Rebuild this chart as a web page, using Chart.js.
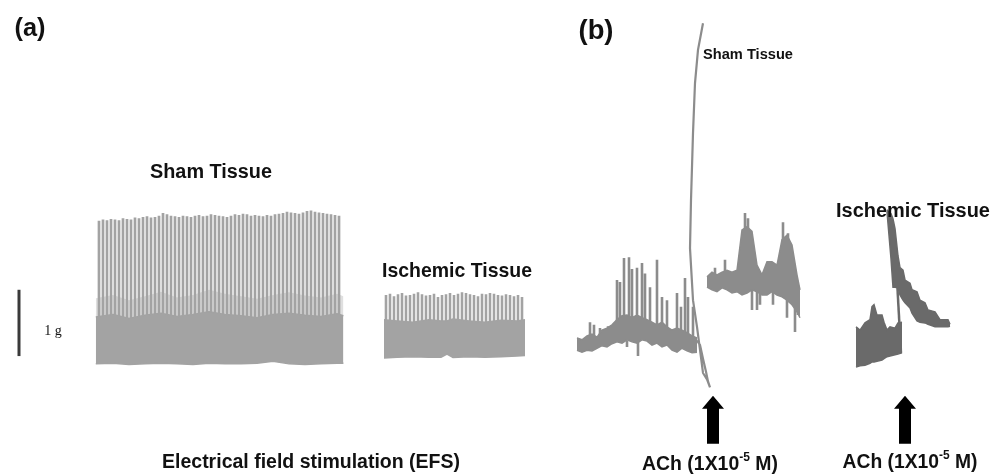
<!DOCTYPE html>
<html>
<head>
<meta charset="utf-8">
<script src="https://cdn.jsdelivr.net/npm/chart.js@4"></script>
<style>
  html, body { margin: 0; padding: 0; background: #fff; }
  canvas { display: block; }
</style>
</head>
<body>
<canvas id="chart_traces" width="1001" height="476"></canvas>
<script>
// time in s, tension in g (1 g scale bar)
const efsPeriod = 1; // EFS pulses, 1 Hz

// (a) sham tissue, EFS
const shamAStart = 0.5;
const shamAPeaks = [2.14,2.16,2.15,2.17,2.16,2.15,2.18,2.17,2.16,2.19,2.18,2.2,2.21,2.19,2.2,2.22,2.26,2.24,2.22,2.21,
    2.2,2.22,2.21,2.2,2.22,2.23,2.21,2.22,2.24,2.23,2.22,2.21,2.2,2.22,2.24,2.23,2.25,2.24,2.22,2.23,
    2.22,2.21,2.23,2.22,2.24,2.25,2.26,2.28,2.27,2.26,2.25,2.27,2.29,2.3,2.28,2.27,2.26,2.25,2.24,2.23,2.22];
const shamABandT = [-0.3,4,8,12,16,20,24,28,32,36,40,44,48,52,56,60,61.6];
const shamABandHi = [0.66,0.7,0.64,0.69,0.72,0.67,0.7,0.74,0.7,0.68,0.65,0.7,0.72,0.69,0.67,0.71,0.68];
const shamABandLo = [-0.06,-0.05,-0.07,-0.06,-0.05,-0.06,-0.07,-0.05,-0.06,-0.06,-0.05,-0.02,-0.06,-0.07,-0.06,-0.05,-0.05];
const shamADenseHi = [0.95,1.0,0.92,0.98,1.05,0.96,1.0,1.08,1.02,0.98,0.94,1.0,1.04,0.99,0.96,1.02,0.98];

// (a) ischemic tissue, EFS
const ischAStart = 72.25;
const ischAPeaks = [1.0,1.02,0.98,1.01,1.03,0.99,1.0,1.02,1.04,1.01,0.99,1.0,1.02,0.97,1.0,1.01,1.03,1.0,
    1.02,1.04,1.03,1.01,1.0,0.98,1.02,1.01,1.03,1.02,1.0,0.99,1.01,1.0,0.98,1.0,0.97];
const ischABandT = [71.75,75,79,83,86,87.5,89,93,97,101,105,107];
const ischABandHi = [0.62,0.6,0.58,0.62,0.6,0.6,0.63,0.6,0.58,0.61,0.6,0.62];
const ischABandLo = [0.03,0.04,0.05,0.04,0.04,0.09,0.04,0.05,0.04,0.05,0.06,0.07];

// scale bar
const scaleBarT = -19.5;
const scaleBarG = [0.06, 1.08];

// (b) sham tissue, before ACh
const shamBPreT = [120,121.25,122.5,123.75,125,126.25,127.5,128.75,130,131.25,132.5,133.75,135,
    136.25,137.5,138.75,140,141.25,142.5,143.75,145,146.25,147.5,148.75,150];
const shamBPreHi = [0.34,0.31,0.37,0.4,0.35,0.46,0.49,0.54,0.62,0.68,0.69,0.65,0.69,
    0.65,0.62,0.58,0.54,0.58,0.51,0.46,0.49,0.46,0.42,0.37,0.34];
const shamBPreLo = [0.15,0.12,0.15,0.14,0.18,0.22,0.2,0.25,0.28,0.26,0.31,0.28,0.26,
    0.31,0.29,0.23,0.26,0.2,0.23,0.15,0.12,0.18,0.14,0.11,0.12];
const shamBPreSpikeT = [123.25,124.25,125.75,127.75,130,130.75,131.75,133,133.75,135,136.25,137,
    138.25,140,141.25,142.5,145,146,147,147.75,149,132.5,135.25];
const shamBPreSpikeHi = [0.58,0.54,0.49,0.52,1.23,1.2,1.57,1.58,1.4,1.42,1.49,1.33,
    1.12,1.54,0.97,0.92,1.03,0.82,1.26,0.97,0.82,0.3,0.3];
const shamBPreSpikeLo = [0.3,0.3,0.3,0.3,0.4,0.4,0.4,0.4,0.4,0.4,0.4,0.4,
    0.4,0.4,0.35,0.35,0.3,0.3,0.3,0.3,0.25,0.2,0.06];

// (b) sham tissue, ACh response (pen trace)
const shamBAchT = [150,150.75,151.5,152.25,152.75,153.25,152.5,151.5,150,149,148.25,148.5,148.75,149,149.5,150.25,151.5];
const shamBAchG = [0.3,0.23,0.02,-0.18,-0.33,-0.42,-0.3,-0.2,0.51,0.92,1.72,2.46,2.97,3.49,4.26,4.77,5.18];

// (b) sham tissue, after ACh
const shamBPostT = [152.5,153.75,155,156.25,157.5,158.75,160,161.25,162.5,163.75,165,166.25,
    167.5,168.75,170,171.25,172.5,173.75,175,175.75];
const shamBPostHi = [1.28,1.35,1.31,1.35,1.38,1.35,1.38,2.0,2.05,1.98,1.46,1.31,
    1.51,1.51,1.46,1.85,1.92,1.77,1.31,1.08];
const shamBPostLo = [1.12,1.08,1.05,1.11,1.08,1.03,1.05,1.0,1.03,1.08,1.05,1.0,
    1.0,1.05,1.0,0.97,0.92,0.85,0.74,0.65];
const shamBPostSpikeT = [154.5,157,162,162.75,171.5,172.75,163.75,165,165.75,169,172.5,174.5,175.25];
const shamBPostSpikeHi = [1.42,1.54,2.26,2.18,2.12,1.95,1.2,1.2,1.2,1.2,1.0,1.0,1.0];
const shamBPostSpikeLo = [1.2,1.2,1.6,1.6,1.5,1.5,0.77,0.77,0.85,0.85,0.65,0.43,0.69];

// (b) ischemic tissue
const ischBPreT = [189.75,190.75,192,193.25,193.75,194.25,195,196.25,196.75,197.5,198.25,199.5,200.25,201.25];
const ischBPreHi = [0.51,0.46,0.57,0.62,0.82,0.85,0.69,0.69,0.58,0.46,0.51,0.49,0.57,0.58];
const ischBPreLo = [-0.11,-0.09,-0.08,-0.05,-0.03,-0.03,-0.02,0,0.02,0.05,0.06,0.08,0.09,0.11];
const ischBRiseT = [201, 200.1];
const ischBRiseG = [0.11, 1.12];
const ischBAchT = [197.5,197.75,198.5,199,199.5,200.25,200.75,201.5,202,203.25,203.75,205,205.75,207,207.75,209.5,210.75,212.75,213.25];
const ischBAchHi = [2.31,2.29,2.25,2.17,2.02,1.6,1.42,1.38,1.23,1.18,1.08,1.05,0.92,0.88,0.77,0.74,0.62,0.62,0.55];
const ischBAchLo = [2.28,2.1,1.56,1.12,1.12,1.11,1.0,0.92,0.88,0.8,0.72,0.6,0.58,0.57,0.55,0.51,0.51,0.51,0.52];

// ACh additions
const achT = [154, 202];
const arrowG = [-0.55, -1.29];

const colA = '#a3a3a3';
const colShamB = '#8c8c8c';
const colIschB = '#6a6a6a';

function pts(t, g) {
    return t.map((x, i) => ({ x: x, y: g[i] }));
}

function band(t, hi, lo, color, fillColor) {
    return [
        { data: pts(t, lo), borderColor: color, borderWidth: 1.5, fill: false },
        { data: pts(t, hi), borderColor: color, borderWidth: 1.5, backgroundColor: fillColor || color, fill: '-1' }
    ];
}

function spikes(t, lo, hi, color, width) {
    const data = [];
    t.forEach((x, i) => {
        data.push({ x: x, y: lo[i] }, { x: x, y: hi[i] }, { x: x, y: null });
    });
    return { data: data, borderColor: color, borderWidth: width, fill: false };
}

function efsTimes(start, n) {
    return Array.from({ length: n }, (_, i) => start + i * efsPeriod);
}

const shamAT = efsTimes(shamAStart, shamAPeaks.length);
const ischAT = efsTimes(ischAStart, ischAPeaks.length);

const datasets = [
    // dense overlap zone just above the solid part
    { data: pts(shamABandT, shamABandHi), borderWidth: 0, fill: false },
    { data: pts(shamABandT, shamADenseHi), borderWidth: 0, backgroundColor: 'rgba(163,163,163,0.35)', fill: '-1' },
    ...band(shamABandT, shamABandHi, shamABandLo, colA),
    spikes(shamAT, shamAT.map(() => 0), shamAPeaks, colA, 2.7),
    ...band(ischABandT, ischABandHi, ischABandLo, colA),
    spikes(ischAT, ischAT.map(() => 0.1), ischAPeaks, colA, 2.6),
    { data: pts([scaleBarT, scaleBarT], scaleBarG), borderColor: '#3a3a3a', borderWidth: 3, fill: false },
    ...band(shamBPreT, shamBPreHi, shamBPreLo, colShamB),
    spikes(shamBPreSpikeT, shamBPreSpikeLo, shamBPreSpikeHi, colShamB, 2.6),
    { data: pts(shamBAchT, shamBAchG), borderColor: colShamB, borderWidth: 2.2, fill: false },
    ...band(shamBPostT, shamBPostHi, shamBPostLo, colShamB),
    spikes(shamBPostSpikeT, shamBPostSpikeLo, shamBPostSpikeHi, colShamB, 2.6),
    ...band(ischBPreT, ischBPreHi, ischBPreLo, colIschB),
    { data: pts(ischBRiseT, ischBRiseG), borderColor: colIschB, borderWidth: 2.5, fill: false },
    ...band(ischBAchT, ischBAchHi, ischBAchLo, colIschB)
];

const labels = [
    { text: '(a)', x: 30, y: 29, size: 21, width: 31 },
    { text: '(b)', x: 596, y: 31, size: 21, width: 35 },
    { text: 'Sham Tissue', x: 211, y: 173, size: 14, width: 122 },
    { text: 'Ischemic Tissue', x: 457, y: 272, size: 14, width: 150 },
    { text: '1 g', x: 53, y: 331, size: 14, weight: 'normal', family: '"Liberation Serif", "DejaVu Serif", serif' },
    { text: 'Electrical field stimulation (EFS)', x: 311, y: 463, size: 15, width: 298 },
    { text: 'Sham Tissue', x: 748, y: 55, size: 13, width: 90 },
    { text: 'Ischemic Tissue', x: 913, y: 211, size: 15, width: 154 },
    { parts: [{ t: 'ACh (1X10' }, { t: '-5', sup: true }, { t: ' M)' }], x: 710, y: 465, size: 14, width: 136 },
    { parts: [{ t: 'ACh (1X10' }, { t: '-5', sup: true }, { t: ' M)' }], x: 910, y: 463, size: 14, width: 135 }
];

function drawLabel(ctx, lab) {
    const parts = lab.parts || [{ t: lab.text }];
    const fam = lab.family || '"Liberation Sans", Arial, sans-serif';
    const weight = lab.weight || 'bold';
    const setFont = (p, size) => {
        ctx.font = weight + ' ' + (p.sup ? size * 0.62 : size) + 'px ' + fam;
    };
    const widthAt = (size) => parts.reduce((s, p) => {
        setFont(p, size);
        return s + ctx.measureText(p.t).width;
    }, 0);
    let size = lab.size;
    if (lab.width) size = size * lab.width / widthAt(size);
    let x = lab.x - widthAt(size) / 2;
    ctx.textAlign = 'left';
    ctx.textBaseline = 'middle';
    ctx.fillStyle = '#111';
    parts.forEach(p => {
        setFont(p, size);
        ctx.fillText(p.t, x, p.sup ? lab.y - size * 0.38 : lab.y);
        x += ctx.measureText(p.t).width;
    });
}

const annotations = {
    id: 'annotations',
    afterDatasetsDraw(chart) {
        const ctx = chart.ctx;
        const xs = chart.scales.x;
        const ys = chart.scales.y;
        ctx.save();
        // ACh arrows
        ctx.fillStyle = '#000';
        achT.forEach(t => {
            const x = xs.getPixelForValue(t);
            const top = ys.getPixelForValue(arrowG[0]);
            const bot = ys.getPixelForValue(arrowG[1]);
            ctx.beginPath();
            ctx.moveTo(x, top);
            ctx.lineTo(x + 11, top + 13);
            ctx.lineTo(x + 6, top + 13);
            ctx.lineTo(x + 6, bot);
            ctx.lineTo(x - 6, bot);
            ctx.lineTo(x - 6, top + 13);
            ctx.lineTo(x - 11, top + 13);
            ctx.closePath();
            ctx.fill();
        });
        labels.forEach(lab => drawLabel(ctx, lab));
        ctx.restore();
    }
};

const ctx = document.getElementById('chart_traces').getContext('2d');
const tracesChart = new Chart(ctx, {
    type: 'line',
    data: { datasets: datasets },
    options: {
        responsive: false,
        animation: false,
        layout: { padding: 0 },
        elements: {
            point: { radius: 0 },
            line: { tension: 0 }
        },
        plugins: {
            legend: { display: false },
            tooltip: { enabled: false }
        },
        scales: {
            x: { type: 'linear', min: -24.25, max: 226, display: false },
            y: { type: 'linear', min: -1.785, max: 5.538, display: false }
        }
    },
    plugins: [annotations]
});
</script>
</body>
</html>
